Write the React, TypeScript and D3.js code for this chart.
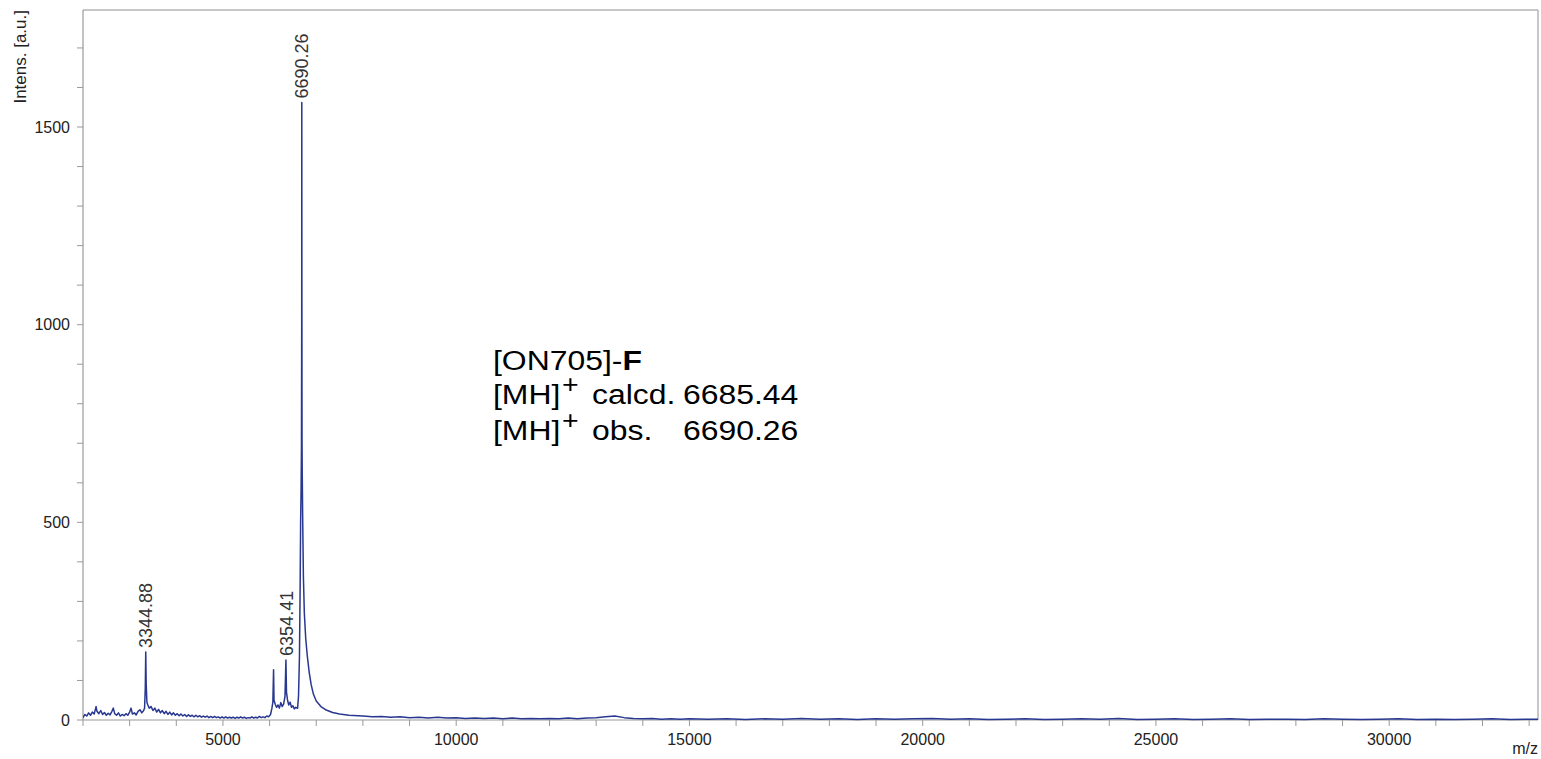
import React from 'react';
import * as d3 from 'd3';

// spectrum as [m/z, intensity] pairs
const noiseLeft: [number, number][] = [
  [2000, 6], [2040, 14], [2080, 10], [2120, 18], [2160, 12], [2200, 20], [2240, 15], [2280, 34],
  [2300, 22], [2340, 16], [2380, 24], [2420, 14], [2460, 19], [2500, 12], [2540, 17], [2580, 13],
  [2620, 22], [2650, 30], [2680, 16], [2720, 12], [2760, 18], [2800, 10], [2840, 14], [2880, 11],
  [2920, 16], [2960, 12], [3000, 20], [3030, 30], [3060, 15], [3100, 18], [3140, 13], [3180, 22],
  [3220, 26], [3260, 18], [3300, 24],
];

const peak3344: [number, number][] = [
  [3320, 30], [3335, 80], [3345, 172], [3355, 90], [3370, 45], [3390, 38], [3420, 30],
];

const midRegion: [number, number][] = [
  [3460, 34], [3500, 24], [3540, 30], [3580, 20], [3620, 27], [3660, 18], [3700, 24], [3740, 16],
  [3780, 22], [3820, 14], [3860, 20], [3900, 13], [3940, 18], [3980, 12], [4020, 16], [4060, 11],
  [4100, 15], [4140, 10], [4180, 14], [4220, 9], [4260, 13], [4300, 9], [4340, 12], [4380, 8],
  [4420, 12], [4460, 8], [4500, 11], [4540, 7], [4580, 10], [4620, 7], [4660, 10], [4700, 6],
  [4740, 9], [4780, 6], [4820, 9], [4860, 6], [4900, 8], [4940, 5], [4980, 8], [5020, 5],
  [5060, 8], [5100, 5], [5140, 7], [5180, 5], [5220, 7], [5260, 4], [5300, 7], [5340, 5],
  [5380, 8], [5420, 5], [5460, 7], [5500, 4], [5540, 6], [5580, 5], [5620, 8], [5660, 5],
  [5700, 7], [5740, 5], [5780, 9], [5820, 6], [5860, 8], [5900, 6], [5940, 10], [5980, 8],
];

const peakCluster: [number, number][] = [
  [6020, 14], [6050, 30], [6070, 45], [6085, 127], [6095, 50], [6120, 40], [6150, 32], [6180, 38],
  [6210, 30], [6240, 44], [6270, 34], [6300, 40], [6330, 60], [6350, 152], [6362, 70], [6385, 50],
  [6410, 38], [6440, 45], [6470, 32], [6500, 36], [6530, 28], [6560, 32], [6590, 30],
];

const mainPeak: [number, number][] = [
  [6600, 30], [6620, 60], [6640, 160], [6655, 340], [6665, 500], [6675, 580], [6683, 690],
  [6688, 1000], [6690, 1562], [6692, 1100], [6695, 710], [6700, 620], [6710, 500], [6725, 360],
  [6745, 270], [6775, 205], [6810, 160], [6850, 120], [6890, 90], [6940, 65], [7000, 48],
  [7100, 34], [7200, 26], [7350, 19], [7500, 15], [7700, 12],
];

const tail: [number, number][] = [
  [8000, 10], [8200, 8], [8400, 9], [8600, 7], [8800, 8], [9000, 6], [9200, 7], [9400, 5],
  [9600, 7], [9800, 5], [10000, 6], [10200, 4], [10400, 5], [10600, 4], [10800, 5], [11000, 3],
  [11200, 5], [11400, 3], [11600, 4], [11800, 3], [12000, 4], [12200, 3], [12400, 5], [12600, 3],
  [12800, 5], [13000, 6], [13200, 8], [13400, 10], [13600, 6], [13800, 4], [14000, 3], [14200, 4],
  [14400, 2], [14600, 3], [14800, 2], [15000, 3], [15400, 2], [15800, 3], [16200, 1], [16600, 3],
  [17000, 2], [17400, 4], [17800, 2], [18200, 3], [18600, 1], [19000, 3], [19400, 2], [19800, 3],
  [20200, 4], [20600, 2], [21000, 3], [21400, 1], [21800, 2], [22200, 3], [22600, 1], [23000, 2],
  [23400, 3], [23800, 2], [24200, 4], [24600, 1], [25000, 2], [25400, 3], [25800, 1], [26200, 2],
  [26600, 3], [27000, 1], [27400, 2], [27800, 2], [28200, 1], [28600, 3], [29000, 2], [29400, 1],
  [29800, 2], [30200, 3], [30600, 1], [31000, 2], [31400, 1], [31800, 2], [32200, 3], [32600, 1],
  [33000, 2], [33190, 2],
];

// labelled peaks: [m/z, intensity, label]
const peakLabels: [number, number, string][] = [
  [3344.88, 172, '3344.88'],
  [6354.41, 152, '6354.41'],
  [6690.26, 1562, '6690.26'],
];

const xMajorTicks = [5000, 10000, 15000, 20000, 25000, 30000];
const yMajorTicks = [0, 500, 1000, 1500];

const W = 1541;
const H = 759;
const plot = { left: 83, right: 1538, top: 10, bottom: 720 };

const FONT = '"Liberation Sans", Arial, Helvetica, sans-serif';

export default function App() {
  const spectrum = [...noiseLeft, ...peak3344, ...midRegion, ...peakCluster, ...mainPeak, ...tail];

  const x = d3.scaleLinear().domain([2000, 33190]).range([plot.left, plot.right]);
  const y = d3.scaleLinear().domain([0, 1796]).range([plot.bottom, plot.top]);

  const line = d3
    .line<[number, number]>()
    .x((d) => x(d[0]))
    .y((d) => y(d[1]));

  const xMinor = d3.range(2000, 33001, 1000);
  const yMinor = d3.range(0, 1701, 100);

  const axisColor = '#9a9a9a';
  const textColor = '#222';

  // annotation, slightly wide glyphs like the original
  const sx = 1.14;
  const ann = (tx: number, ty: number, content: React.ReactNode, size = 28) => (
    <text
      transform={`translate(${tx},${ty}) scale(${sx},1)`}
      fontFamily={FONT}
      fontSize={size}
      fill="#000"
    >
      {content}
    </text>
  );

  return (
    <svg
      width={W}
      height={H}
      style={{ position: 'absolute', left: 0, top: 0, background: '#fff' }}
    >
      <defs>
        <clipPath id="plotClip">
          <rect x={plot.left} y={plot.top - 2} width={plot.right - plot.left} height={plot.bottom - plot.top + 4} />
        </clipPath>
      </defs>

      {/* frame */}
      <line x1={plot.left} x2={plot.right} y1={plot.top} y2={plot.top} stroke="#b5b5b5" strokeWidth={1.5} />
      <line x1={plot.right} x2={plot.right} y1={plot.top} y2={plot.bottom} stroke="#b5b5b5" strokeWidth={1.5} />
      <line x1={plot.left} x2={plot.left} y1={plot.top} y2={plot.bottom} stroke={axisColor} strokeWidth={1.2} />
      <line x1={plot.left} x2={plot.right} y1={plot.bottom} y2={plot.bottom} stroke={axisColor} strokeWidth={1.2} />

      {/* x ticks */}
      {xMinor.map((v) => (
        <line key={`xm${v}`} x1={x(v)} x2={x(v)} y1={plot.bottom} y2={plot.bottom + 6} stroke={axisColor} strokeWidth={1} />
      ))}
      {xMajorTicks.map((v) => (
        <text key={`xl${v}`} x={x(v)} y={745} textAnchor="middle" fontFamily={FONT} fontSize={16} fill={textColor}>
          {v}
        </text>
      ))}

      {/* y ticks */}
      {yMinor.map((v) => (
        <line key={`ym${v}`} x1={plot.left - 6} x2={plot.left} y1={y(v)} y2={y(v)} stroke={axisColor} strokeWidth={1} />
      ))}
      {yMajorTicks.map((v) => (
        <text key={`yl${v}`} x={70} y={y(v)} dy="0.35em" textAnchor="end" fontFamily={FONT} fontSize={16} fill={textColor}>
          {v}
        </text>
      ))}

      {/* axis titles */}
      <text
        transform="translate(26,10) rotate(-90)"
        textAnchor="end"
        fontFamily={FONT}
        fontSize={17}
        fill={textColor}
      >
        Intens. [a.u.]
      </text>
      <text x={1538} y={754} textAnchor="end" fontFamily={FONT} fontSize={16} fill={textColor}>
        m/z
      </text>

      {/* spectrum */}
      <path
        d={line(spectrum) || ''}
        fill="none"
        stroke="#28378f"
        strokeWidth={1.5}
        strokeLinejoin="round"
        clipPath="url(#plotClip)"
      />

      {/* peak labels */}
      {peakLabels.map(([mz, v, label]) => {
        const px = x(mz) + 6.5;
        const py = y(v) - 4;
        return (
          <text
            key={label}
            transform={`translate(${px},${py}) rotate(-90)`}
            fontFamily={FONT}
            fontSize={18}
            fill="#333"
          >
            {label}
          </text>
        );
      })}

      {/* annotation */}
      {ann(493, 370, (
        <>
          [ON705]-<tspan fontWeight="bold">F</tspan>
        </>
      ))}
      {ann(493, 404, '[MH]')}
      {ann(562, 393, '+', 25)}
      {ann(592, 404, 'calcd.')}
      {ann(683, 404, '6685.44')}
      {ann(493, 440, '[MH]')}
      {ann(562, 429, '+', 25)}
      {ann(592, 440, 'obs.')}
      {ann(683, 440, '6690.26')}
    </svg>
  );
}
